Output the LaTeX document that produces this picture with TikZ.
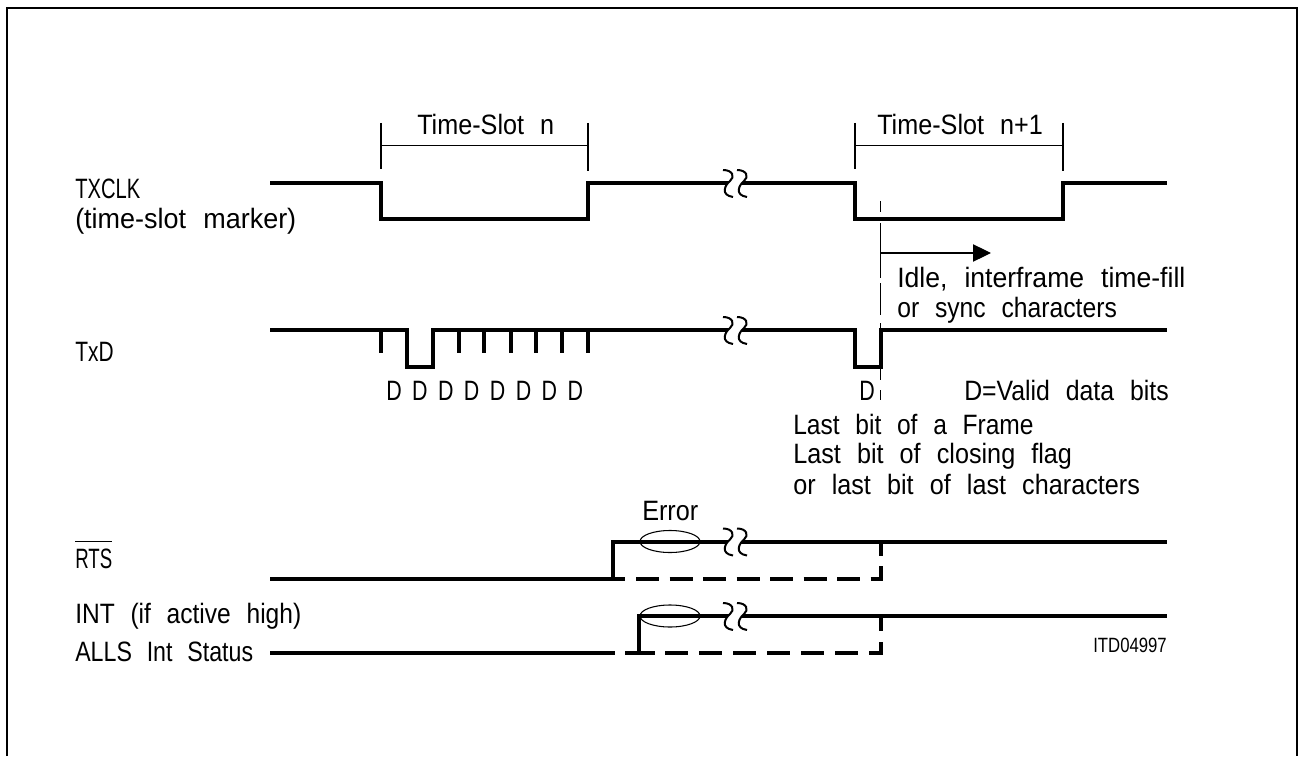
\documentclass[tikz,border=0pt]{standalone}
\usepackage{fontspec}
\setmainfont[WordSpace=2.3,FakeStretch=0.9]{Liberation Sans}
\usetikzlibrary{arrows.meta}
\newcommand{\sqz}[2]{\scalebox{#1}[1]{#2}}
\tikzset{
  x=0.75pt,
  y=-0.75pt,
  signal/.style={
    line width=3pt,
    line join=miter
  },
  signaldash/.style={
    signal,
    dash pattern=on 17.25pt off 7.9pt
  },
  thinline/.style={
    line width=0.8pt
  },
  lbl/.style={
    anchor=base west,
    inner sep=0pt,
    font=\fontsize{21}{24}\selectfont
  },
  dbit/.style={
    lbl,
    anchor=base
  },
  linebreak/.pic={
    \fill[white] (-12,-13) .. controls (-2,-13) and (0,-6) .. (-5,-2) .. controls (-10,2) and (-15,12) .. (-2,14)
      -- (12,14) .. controls (-1,12) and (4,2) .. (9,-2) .. controls (14,-6) and (12,-13) .. (2,-13) -- cycle;
    \foreach \dx in {0,14}{
      \draw[line width=1.5pt] (\dx-12,-13) .. controls (\dx-2,-13) and (\dx,-6) .. (\dx-5,-2)
        .. controls (\dx-10,2) and (\dx-15,12) .. (\dx-2,14);
    }
  }
}
\begin{document}
\begin{tikzpicture}
    \useasboundingbox (0,0) rectangle (1298,756);
    \draw[line width=1.5pt] (7,756) -- (7,8) -- (1297,8) -- (1297,756);

    % TXCLK
    \draw[signal] (270,183) -- (381,183) -- (381,219) -- (588,219) -- (588,183) -- (855,183)
        -- (855,219) -- (1063,219) -- (1063,183) -- (1167,183);
    \node[lbl] (txclk) at (75,198) {\sqz{.8}{TXCLK}};
    \node[lbl] (marker) at (75,228) {\sqz{1.07}{(time-slot marker)}};
    \foreach \x/\r in {381/588,855/1063}{
        \draw[thinline] (\x,123) -- (\x,169);
        \draw[thinline] (\r,123) -- (\r,171);
        \draw[thinline] (\x,145.5) -- (\r,145.5);
    }
    \node[lbl] (slotn) at (417,135) {Time-Slot n};
    \node[lbl] (slotm) at (877,135) {Time-Slot n+1};

    % TxD
    \draw[signal] (270,330) -- (406.5,330) -- (406.5,367) -- (432.5,367) -- (432.5,330) -- (855,330)
        -- (855,367) -- (881,367) -- (881,330) -- (1167,330);
    \foreach \x in {381,459,484,511,536,562,588}{
        \draw[signal] (\x,330) -- (\x,353);
    }
    \node[lbl] (txd) at (75,361) {\sqz{.83}{TxD}};
    \foreach \i in {0,...,7}{
        \node[dbit] (d\i) at ({394+25.9*\i},400.5) {\sqz{.85}{D}};
    }
    \node[dbit] (dlast) at (867,400.5) {\sqz{.85}{D}};
    \node[lbl] (valid) at (964,400.5) {\sqz{.985}{D=Valid data bits}};
    \node[lbl] (idle) at (897,287) {\sqz{1.055}{Idle, interframe time-fill}};
    \node[lbl] (sync) at (897,317) {\sqz{.98}{or sync characters}};
    \node[lbl] (frame) at (793,434) {\sqz{.975}{Last bit of a Frame}};
    \node[lbl] (flag) at (793,463) {Last bit of closing flag};
    \node[lbl] (chars) at (793,494) {or last bit of last characters};

    % marker line and arrow
    \draw[line width=1.1pt,dash pattern=on 8.25pt off 8.25pt on 41.25pt off 3.75pt on 24pt off 6pt on 42.75pt off 7.5pt on 7.5pt]
        (880.5,201) -- (880.5,400);
    \draw[thinline,-{Triangle[length=13.5pt,width=13pt]}] (881,253) -- (991,253);

    % RTS
    \draw[signal] (270,579) -- (625,579);
    \draw[signal] (613,579) -- (613,541.5) -- (1167,541.5);
    \draw[signaldash] (636,579) -- (881,579) -- (881,541.5);
    \node[lbl] (rts) at (75,568) {\sqz{.74}{RTS}};
    \draw[thinline] ([yshift=5pt]rts.north west) -- ([yshift=5pt]rts.north east);
    \node[lbl] (error) at (642,520) {Error};
    \draw[thinline] (670,541.5) ellipse (30 and 11);

    % INT
    \draw[signal] (270,652.5) -- (615,652.5);
    \draw[signal] (625,652.5) -- (655,652.5);
    \draw[signal] (639,652.5) -- (639,616) -- (1167,616);
    \draw[signaldash,dash pattern=on 17.25pt off 8.25pt] (665,652.5) -- (881,652.5) -- (881,616);
    \node[lbl] (int) at (75,623) {\sqz{.975}{INT (if active high)}};
    \node[lbl] (alls) at (75,661) {\sqz{.92}{ALLS Int Status}};
    \draw[thinline] (670,616) ellipse (30 and 11);

    \foreach \y in {183,330,541.5,616}{
        \pic at (735,\y) {linebreak};
    }
    \node[lbl,font=\fontsize{15.5}{18}\selectfont] (itd) at (1093,652) {\sqz{.9}{ITD04997}};
\end{tikzpicture}
\end{document}
